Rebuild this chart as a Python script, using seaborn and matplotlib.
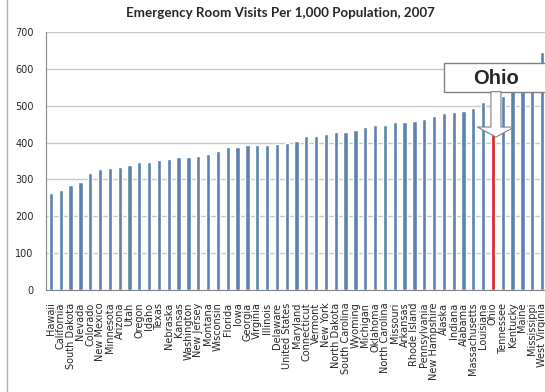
import numpy as np
import pandas as pd
import matplotlib
matplotlib.use('Agg')
import matplotlib.pyplot as plt
import seaborn as sns
from matplotlib.patches import Rectangle
from matplotlib.lines import Line2D

# Data (sorted low to high)
states = ['Hawaii', 'California', 'South Dakota', 'Nevada', 'Colorado', 'New Mexico',
          'Minnesota', 'Arizona', 'Utah', 'Oregon', 'Idaho', 'Texas', 'Nebraska',
          'Kansas', 'Washington', 'New Jersey', 'Montana', 'Wisconsin', 'Florida',
          'Iowa', 'Georgia', 'Virginia', 'Illinois', 'Delaware', 'United States',
          'Maryland', 'Connecticut', 'Vermont', 'New York', 'North Dakota',
          'South Carolina', 'Wyoming', 'Michigan', 'Oklahoma', 'North Carolina',
          'Missouri', 'Arkansas', 'Rhode Island', 'Pennsylvania', 'New Hampshire',
          'Alaska', 'Indiana', 'Alabama', 'Massachusetts', 'Louisiana', 'Ohio',
          'Tennessee', 'Kentucky', 'Maine', 'Mississippi', 'West Virginia']
visits = [264, 272, 284, 292, 318, 329, 331, 335, 340, 346, 346, 353, 355,
          361, 361, 364, 370, 376, 388, 389, 393, 394, 394, 397, 400,
          404, 418, 418, 423, 429, 429, 435, 443, 447, 448,
          455, 456, 459, 463, 471, 480, 484, 486, 495, 510, 518,
          526, 545, 562, 584, 645]
highlight = 'Ohio'
arrow_target = 415

blue = '#4F81BD'
red = '#FF0000'

df = pd.DataFrame({'state': states, 'visits': visits})
palette = {s: (red if s == highlight else blue) for s in states}

sns.set_style('white')
plt.rcParams['font.family'] = ['DejaVu Sans']

fig = plt.figure(figsize=(5.45, 3.92), dpi=100)
ax = fig.add_axes([0.0844, 0.2602, 0.9193, 0.6582])

sns.barplot(data=df, x='state', y='visits', hue='state', palette=palette,
            width=0.44, legend=False, ax=ax, zorder=2)

ax.set_ylim(0, 700)
ax.set_xlim(-0.5, len(states) - 0.5)
ax.set_yticks(range(0, 701, 100))
ax.yaxis.grid(True, color='#c8c8c8', linewidth=1, zorder=0)
ax.set_axisbelow(True)
ax.set_xlabel('')
ax.set_ylabel('')

for side in ['top', 'right']:
    ax.spines[side].set_visible(False)
ax.spines['left'].set_color('#868686')
ax.spines['bottom'].set_color('#868686')

ax.tick_params(axis='x', length=0, pad=9, labelsize=7, labelrotation=90)
ax.tick_params(axis='y', length=0, pad=9, labelsize=7)

ax.set_title('Emergency Room Visits Per 1,000 Population, 2007',
             fontsize=9.6, fontweight='bold', family='Lato', pad=11, x=0.467)

# Callout box with block arrow pointing at Ohio
ohio_idx = states.index(highlight)
box = Rectangle((ohio_idx - 4.95, 536), 11.5, 80, facecolor='white',
                edgecolor='#808080', linewidth=1, zorder=4, clip_on=False)
ax.add_patch(box)
ax.text(ohio_idx + 0.3, 575, highlight, ha='center', va='center', fontsize=14.5,
        fontweight='bold', family='Liberation Sans', zorder=5)
ax.annotate('', xy=(ohio_idx + 0.3, arrow_target), xytext=(ohio_idx + 0.3, 538),
            arrowprops=dict(arrowstyle='simple,head_length=1.0,head_width=3.7,tail_width=1.0',
                            fc='white', ec='#808080', lw=0.8, mutation_scale=7.2,
                            shrinkA=0, shrinkB=0),
            zorder=5)

# thin border line at the left of the image
fig.add_artist(Line2D([7 / 545, 7 / 545], [0, 1], color='#b0b0b0', linewidth=1))

plt.savefig('out.png', dpi=100)
